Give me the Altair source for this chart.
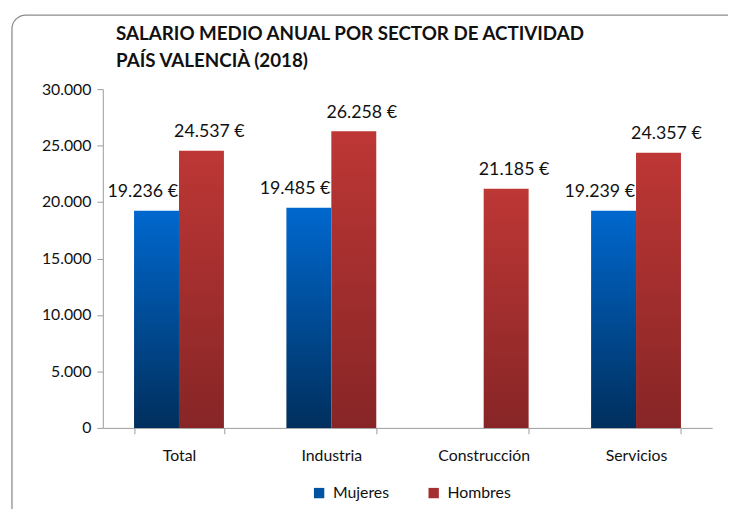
import altair as alt
import pandas as pd

sectores = ["Total", "Industria", "Construcción", "Servicios"]
mujeres = [19236, 19485, None, 19239]
hombres = [24537, 26258, 21185, 24357]
series = ["Mujeres", "Hombres"]
y_ticks = [0, 5000, 10000, 15000, 20000, 25000, 30000]

rows = []
for s, m, h in zip(sectores, mujeres, hombres):
    if m is not None:
        rows.append({"sector": s, "serie": "Mujeres", "valor": m})
    rows.append({"sector": s, "serie": "Hombres", "valor": h})
df = pd.DataFrame(rows)

W, H = 617, 343
FONT = "Lato"

grad_blue = alt.Gradient(gradient="linear", x1=0, x2=0, y1=0, y2=1,
                         stops=[alt.GradientStop(offset=0, color="#0068CE"),
                                alt.GradientStop(offset=1, color="#002F5D")])
grad_red = alt.Gradient(gradient="linear", x1=0, x2=0, y1=0, y2=1,
                        stops=[alt.GradientStop(offset=0, color="#BD3735"),
                               alt.GradientStop(offset=1, color="#872526")])

x_enc = alt.X("sector:N", sort=sectores, title=None,
              scale=alt.Scale(paddingInner=0.41, paddingOuter=0.205),
              axis=alt.Axis(labelAngle=0, tickBand="extent", labelPadding=14,
                            labelFontSize=16, labelColor="#111", labelFont=FONT,
                            domainColor="#9a9a9a", tickColor="#9a9a9a", tickSize=6))
y_enc = alt.Y("valor:Q", title=None,
              scale=alt.Scale(domain=[0, 30000], nice=False),
              axis=alt.Axis(values=y_ticks, grid=False,
                            labelExpr="replace(format(datum.value, ','), ',', '.')",
                            labelFontSize=16, labelColor="#111", labelFont=FONT,
                            labelPadding=6, domainColor="#9a9a9a",
                            tickColor="#9a9a9a", tickSize=6))
xoff = alt.XOffset("serie:N", sort=series, scale=alt.Scale(domain=series))

base = alt.Chart(df).encode(x=x_enc, xOffset=xoff)

color_enc = alt.Color("serie:N", sort=series,
                      scale=alt.Scale(domain=series, range=["#0052A3", "#A52F30"]),
                      legend=alt.Legend(title=None, orient="none", direction="horizontal",
                                        legendX=211, legendY=401, symbolType="square",
                                        symbolSize=110, symbolOpacity=1, labelFontSize=16,
                                        labelFont=FONT, labelColor="#111", columnPadding=37,
                                        labelOffset=6, symbolStrokeWidth=0))

legend_layer = base.mark_point(opacity=0, filled=True).encode(y=y_enc, color=color_enc)

bars_m = base.transform_filter(alt.datum.serie == "Mujeres").mark_bar().encode(
    y=y_enc, fill=alt.value(grad_blue))
bars_h = base.transform_filter(alt.datum.serie == "Hombres").mark_bar().encode(
    y=y_enc, fill=alt.value(grad_red))

lbl = "replace(format(datum.valor, ','), ',', '.') + ' €'"
text_m = base.transform_filter(alt.datum.serie == "Mujeres").transform_calculate(
    lbl=lbl).mark_text(baseline="bottom", dy=-10, dx=-14, fontSize=18, font=FONT,
                       color="#111").encode(y="valor:Q", text="lbl:N")
text_h = base.transform_filter(alt.datum.serie == "Hombres").transform_calculate(
    lbl=lbl).mark_text(baseline="bottom", dy=-10, dx=8, fontSize=18, font=FONT,
                       color="#111").encode(y="valor:Q", text="lbl:N")

frame = alt.Chart(pd.DataFrame({"a": [0]})).mark_rect(
    fill=None, stroke="#8c8c8c", strokeWidth=1.3, cornerRadius=14, clip=False
).encode(x=alt.value(-92), x2=alt.value(W + 60), y=alt.value(-75), y2=alt.value(H + 100))

chart = alt.layer(frame, bars_m, bars_h, text_m, text_h, legend_layer).properties(
    width=W, height=H,
    padding={"left": 96, "top": 79, "right": 16, "bottom": 79},
    autosize=alt.AutoSizeParams(type="none"),
    title=alt.TitleParams(["SALARIO MEDIO ANUAL POR SECTOR DE ACTIVIDAD", "PAÍS VALENCIÀ (2018)"],
                          anchor="start", dx=106, offset=16, dy=73, fontSize=19, font=FONT,
                          fontWeight="bold", color="#111", lineHeight=27)
).configure_view(stroke=None)

chart.save("out.html", embed_options={"renderer": "svg", "actions": False})
